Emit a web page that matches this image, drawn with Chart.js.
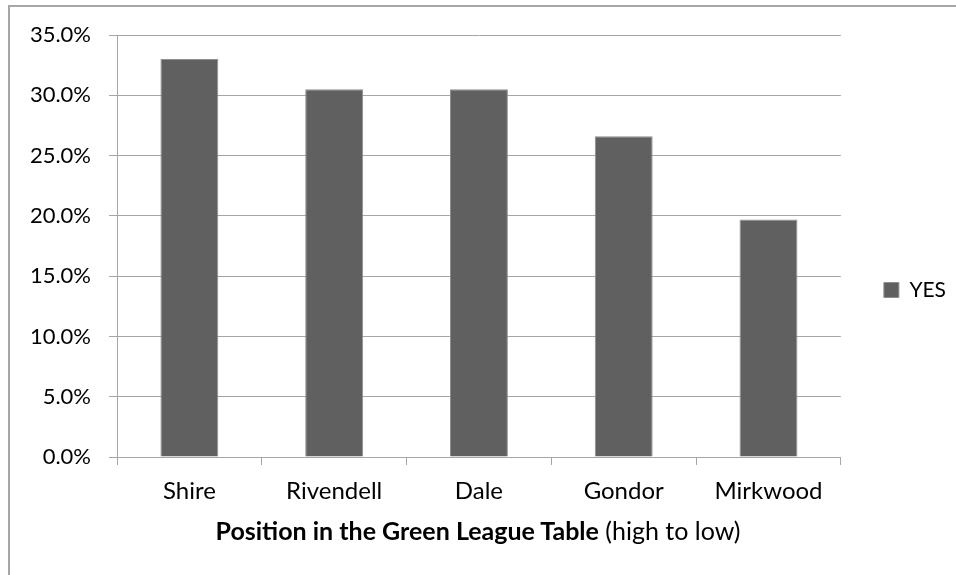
<!DOCTYPE html>
<html lang="en">
<head>
  <meta charset="UTF-8">
  <title>Green League Table</title>
  <script src="https://cdn.jsdelivr.net/npm/chart.js"></script>
  <style>
    html, body { margin: 0; padding: 0; background: #fff; }
    body { width: 956px; height: 575px; position: relative; overflow: hidden; font-family: Lato, "Open Sans", sans-serif; }
    .frame {
      position: absolute; left: 8px; top: 5px; width: 948px; height: 570px;
      border-left: 2px solid #a6a6a6; border-top: 2px solid #a6a6a6;
      box-sizing: border-box;
    }
    .frame canvas { display: block; }
    .xtitle {
      position: absolute; left: 0; width: 956px; top: 514px; height: 32px;
      font-size: 25px; line-height: 32px; color: #000;
    }
    .xtitle span { position: absolute; left: 478px; transform: translateX(-50%); white-space: nowrap; }
  </style>
</head>
<body>
  <div class="frame">
    <canvas id="chart" width="946" height="568"></canvas>
  </div>
  <div class="xtitle"><span><b>Position in the Green League Table</b> (high to low)</span></div>

  <script>
    const categories = ["Shire", "Rivendell", "Dale", "Gondor", "Mirkwood"];
    const yesValues = [33.0, 30.5, 30.5, 26.6, 19.7];
    const yTicks = [0, 5, 10, 15, 20, 25, 30, 35];

    const axisGray = '#a6a6a6';
    const barGray = '#606060';

    const ctx = document.getElementById('chart').getContext('2d');
    new Chart(ctx, {
      type: 'bar',
      data: {
        labels: categories,
        datasets: [{
          label: 'YES',
          data: yesValues,
          backgroundColor: barGray,
          borderColor: '#8f8f8f',
          borderWidth: 1,
          categoryPercentage: 1,
          barPercentage: 0.4
        }]
      },
      options: {
        responsive: false,
        animation: false,
        layout: { padding: { top: 28, right: 0, bottom: 30, left: 0 } },
        plugins: {
          tooltip: { enabled: false },
          legend: {
            position: 'right',
            maxWidth: 117,
            labels: {
              boxWidth: 15,
              boxHeight: 15,
              color: '#000',
              padding: 43,
              font: { family: 'Lato', size: 21 }
            }
          }
        },
        scales: {
          x: {
            afterFit: scale => { scale.height = 88; },
            grid: { offset: true, drawOnChartArea: false, drawTicks: true, tickLength: 8, color: axisGray },
            border: { color: axisGray, width: 1 },
            ticks: { color: '#000', padding: 12, font: { family: 'Lato', size: 24 } }
          },
          y: {
            min: 0,
            max: 35,
            afterFit: scale => {
              scale.width = 107;
              scale.paddingTop = 0;
              scale.paddingBottom = 0;
            },
            afterBuildTicks: scale => { scale.ticks = yTicks.map(v => ({ value: v })); },
            grid: { color: axisGray, tickLength: 8 },
            border: { color: axisGray, width: 1 },
            ticks: {
              color: '#000',
              padding: 18,
              font: { family: 'Lato', size: 22 },
              callback: v => v.toFixed(1) + '%'
            }
          }
        }
      }
    });
  </script>
</body>
</html>
